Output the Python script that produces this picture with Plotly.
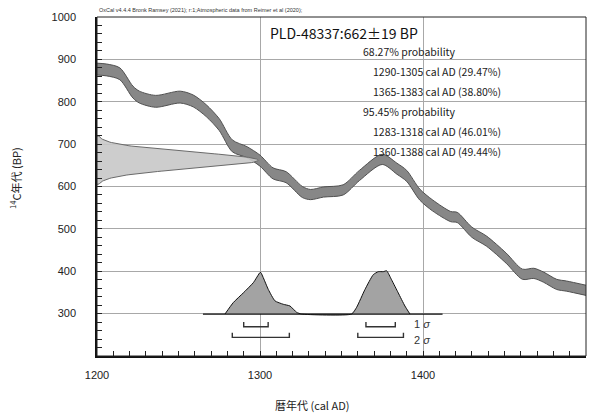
import numpy as np
import plotly.graph_objects as go

# ---------------- data ----------------
# IntCal20 calibration curve (centre, 14C BP)
curve_year = [1200, 1206, 1214, 1222, 1226, 1236, 1251, 1259, 1267, 1275, 1283, 1292,
              1300, 1308, 1316, 1326, 1331, 1339, 1351, 1361, 1375, 1384, 1390, 1398,
              1406, 1417, 1421, 1430, 1439, 1451, 1461, 1468, 1474, 1482, 1488, 1500]
curve_bp = [877, 875, 866, 823, 811, 801, 811, 802, 779, 746, 696, 681,
            661, 631, 622, 587, 581, 587, 592, 626, 664, 642, 625, 581,
            555, 529, 527, 492, 471, 431, 393, 395, 386, 369, 365, 355]
curve_err = [14, 14, 14, 14, 14, 14, 14, 14, 14, 14, 14, 13,
             13, 13, 13, 13, 12, 12, 12, 12, 12, 13, 13, 13,
             13, 12, 12, 12, 12, 12, 12, 12, 12, 12, 12, 12]

# measurement
sample_label = "PLD-48337:662±19 BP"
measured_bp = 662
measured_sd = 19

# calibrated probability (relative)
post_year = [1278.5, 1283.6, 1289.8, 1295.9, 1300, 1300.5, 1305.1, 1309.2, 1314.3, 1318.4,
             1322.5, 1325.5, 1356.2, 1359.3, 1364.4, 1369.5, 1372.6, 1375.6, 1377.7, 1380.7,
             1384.8, 1388.9, 1392]
post_prob = [0.0, 0.27, 0.50, 0.74, 0.98, 0.98, 0.58, 0.31, 0.23, 0.19,
             0.04, 0.0, 0.0, 0.16, 0.58, 0.93, 1.0, 1.0, 1.02, 0.81,
             0.50, 0.19, 0.0]
post_span = [1265, 1412]

# ranges
ranges_1s = [(1290, 1305), (1365, 1383)]
ranges_2s = [(1283, 1318), (1360, 1388)]

text_lines = [
    ("68.27% probability", 0),
    ("1290-1305 cal AD (29.47%)", 1),
    ("1365-1383 cal AD (38.80%)", 1),
    ("95.45% probability", 0),
    ("1283-1318 cal AD (46.01%)", 1),
    ("1360-1388 cal AD (49.44%)", 1),
]

x_ticks = [1200, 1300, 1400, 1500]
y_ticks = [300, 400, 500, 600, 700, 800, 900, 1000]

# ---------------- layout helpers ----------------
W, H = 593, 417
L, R, T, B = 97, 586, 17, 356


def px(x):
    return (x - L) / (R - L)


def py(y):
    return 1 - (y - T) / (B - T)


JP = "Noto Sans CJK JP"
SANS = "Liberation Sans, Arial, sans-serif"

fig = go.Figure()

# calibration curve band
up = [b + e for b, e in zip(curve_bp, curve_err)]
lo = [b - e for b, e in zip(curve_bp, curve_err)]
fig.add_trace(go.Scatter(x=curve_year, y=lo, mode="lines",
                         line=dict(color="#505050", width=1, shape="spline", smoothing=0.8),
                         hoverinfo="skip"))
fig.add_trace(go.Scatter(x=curve_year, y=up, mode="lines", fill="tonexty",
                         fillcolor="#878787",
                         line=dict(color="#505050", width=1, shape="spline", smoothing=0.8),
                         hoverinfo="skip"))

# measurement gaussian on the y axis
z = np.linspace(-3, 3, 121)
g_bp = measured_bp + z * measured_sd
g_x = 1200 + 99 * np.exp(-z ** 2 / 2)
fig.add_trace(go.Scatter(x=np.concatenate([[1200], g_x, [1200]]),
                         y=np.concatenate([[g_bp[0]], g_bp, [g_bp[-1]]]),
                         mode="lines", fill="toself", fillcolor="rgba(200,200,200,0.9)",
                         line=dict(color="#6a6a6a", width=1), hoverinfo="skip"))

# posterior
base = 299
scale = 100
fig.add_trace(go.Scatter(x=post_year, y=[base + scale * p for p in post_prob],
                         mode="lines", fill="toself", fillcolor="#a3a3a3",
                         line=dict(color="#111111", width=1, shape="spline", smoothing=0.5),
                         hoverinfo="skip"))
fig.add_trace(go.Scatter(x=post_span, y=[base, base], mode="lines",
                         line=dict(color="#111111", width=1.2), hoverinfo="skip"))

# brackets
for ranges, yb in ((ranges_1s, 269), (ranges_2s, 244)):
    for a, b in ranges:
        fig.add_trace(go.Scatter(x=[a, a, b, b], y=[yb + 11, yb, yb, yb + 11], mode="lines",
                                 line=dict(color="#333333", width=1.4), hoverinfo="skip"))

fig.update_layout(
    width=W, height=H,
    margin=dict(l=L, r=W - R, t=T, b=H - B),
    paper_bgcolor="white", plot_bgcolor="white",
    showlegend=False,
    font=dict(family=SANS, size=11, color="#222222"),
)
fig.update_xaxes(range=[1200, 1500], tickvals=x_ticks, ticktext=[str(v) for v in x_ticks],
                 showgrid=True, gridcolor="#a8a8a8", gridwidth=1,
                 showline=True, linecolor="#111111", linewidth=1.5,
                 ticks="inside", ticklen=5, tickcolor="#222222",
                 minor=dict(dtick=10, ticks="inside", ticklen=5, tickcolor="#222222", showgrid=False),
                 ticklabelstandoff=8, zeroline=False,
                 tickfont=dict(family=SANS, size=11, color="#222222"))
fig.update_yaxes(range=[200, 1000], tickvals=y_ticks, ticktext=[str(v) for v in y_ticks],
                 showgrid=True, gridcolor="#a8a8a8", gridwidth=1,
                 showline=True, linecolor="#111111", linewidth=1.5,
                 ticks="inside", ticklen=5, tickcolor="#222222",
                 minor=dict(dtick=20, ticks="inside", ticklen=5, tickcolor="#222222", showgrid=False),
                 ticklabelstandoff=17, zeroline=False,
                 tickfont=dict(family=SANS, size=11, color="#222222"))

# frame
fig.add_shape(type="rect", xref="paper", yref="paper", x0=0, y0=0, x1=1, y1=1,
              line=dict(color="#222222", width=1))

ann = []
ann.append(dict(text="OxCal v4.4.4 Bronk Ramsey (2021); r:1;Atmospheric data from Reimer et al (2020);",
                x=px(97), y=py(15), xanchor="left", yanchor="bottom",
                font=dict(family=SANS, size=5.5, color="#333333")))
ann.append(dict(text=sample_label, x=px(268), y=py(33), xanchor="left", yanchor="middle",
                font=dict(family=JP, size=14, color="#111111")))
ys = [51.5, 71.5, 91.5, 111.5, 131.5, 151]
for (t, kind), yy in zip(text_lines, ys):
    xx = 361 if kind == 0 else 371
    ann.append(dict(text=t, x=px(xx), y=py(yy), xanchor="left", yanchor="middle",
                    align="left", font=dict(family=JP, size=10.5, color="#222222")))
ann.append(dict(text="1 <i>σ</i>", x=1393.5, y=275, xref="x", yref="y", xanchor="left",
                yanchor="middle", font=dict(family=SANS, size=11, color="#333333")))
ann.append(dict(text="2 <i>σ</i>", x=1393.5, y=237, xref="x", yref="y", xanchor="left",
                yanchor="middle", font=dict(family=SANS, size=11, color="#333333")))
ann.append(dict(text="暦年代 (cal AD)", x=px(312), y=py(405), xanchor="center", yanchor="middle",
                font=dict(family=JP, size=11, color="#222222")))
ann.append(dict(text="<sup>14</sup>C年代 (BP)", x=px(16), y=py(178), xanchor="center",
                yanchor="middle", textangle=-90,
                font=dict(family=JP, size=11, color="#222222")))
for a in ann:
    a.setdefault("xref", "paper")
    a.setdefault("yref", "paper")
    a["showarrow"] = False
fig.update_layout(annotations=ann)

fig.write_html("out.html", config={"displayModeBar": False},
               post_script="document.body.style.margin='0';document.body.style.overflow='hidden';")
